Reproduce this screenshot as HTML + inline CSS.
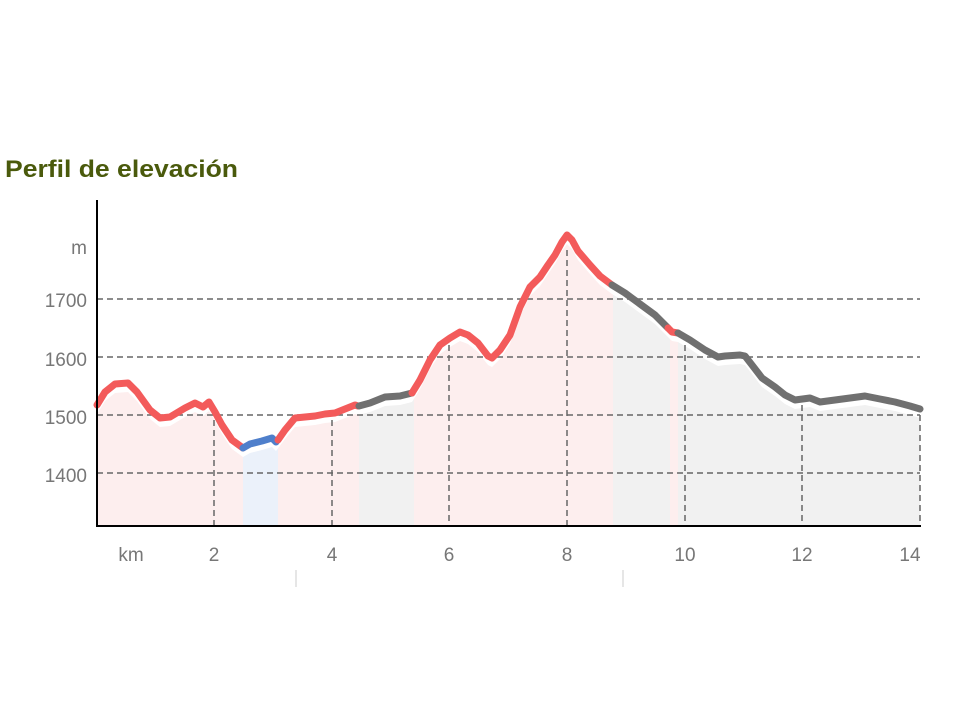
<!DOCTYPE html>
<html><head><meta charset="utf-8"><style>
body{margin:0;background:#fff;width:960px;height:720px;overflow:hidden}
svg{display:block}
text{font-family:"Liberation Sans",sans-serif}
</style></head><body>
<svg width="960" height="720" viewBox="0 0 960 720">
<defs>
<clipPath id="fc"><path id="fp" transform="translate(0,9)" d="M97,405 L105,392 L115,384 L128,383 L137,392 L150,410 L160,418 L170,417 L185,408 L195,403 L203,407 L209,402 L215,412 L222,425 L232,440 L243,448 L250,444 L262,441 L272,438 L276,442 L285,430 L295,418 L305,417 L315,416 L325,414 L335,413 L345,409 L355,405 L358,406 L370,403 L385,397 L400,396 L412,393 L420,380 L430,360 L440,345 L450,338 L460,332 L468,335 L478,343 L488,356 L492,358 L500,350 L510,335 L520,307 L530,287 L540,277 L548,265 L555,255 L562,242 L567,235 L572,240 L578,251 L590,265 L600,276 L612,285 L625,293 L640,304 L655,315 L668,328 L672,332 L678,333 L690,340 L705,350 L718,357 L725,356 L740,355 L745,356 L752,365 L762,378 L775,387 L785,395 L795,400 L810,398 L820,402 L835,400 L850,398 L865,396 L880,399 L895,402 L910,406 L920,409 L920,540 L97,540 Z"/></clipPath>
</defs>
<text x="5" y="177" font-size="24" font-weight="bold" fill="#4a5a0c" textLength="233" lengthAdjust="spacingAndGlyphs">Perfil de elevación</text>
<g clip-path="url(#fc)">
<rect x="97" y="200" width="146" height="326" fill="#fdeeee"/>
<rect x="243" y="200" width="35" height="326" fill="#ebf1fa"/>
<rect x="278" y="200" width="81" height="326" fill="#fdeeee"/>
<rect x="359" y="200" width="55" height="326" fill="#f1f1f1"/>
<rect x="414" y="200" width="199" height="326" fill="#fdeeee"/>
<rect x="613" y="200" width="57" height="326" fill="#f1f1f1"/>
<rect x="670" y="200" width="8" height="326" fill="#fdeeee"/>
<rect x="678" y="200" width="242" height="326" fill="#f1f1f1"/>
</g>
<g stroke="#666" stroke-width="1.5" stroke-dasharray="6,4" fill="none">
<line x1="97" y1="299" x2="920" y2="299"/>
<line x1="97" y1="357" x2="920" y2="357"/>
<line x1="97" y1="415" x2="920" y2="415"/>
<line x1="97" y1="473" x2="920" y2="473"/>
<line x1="214" y1="410" x2="214" y2="526"/>
<line x1="332" y1="420" x2="332" y2="526"/>
<line x1="449" y1="345" x2="449" y2="526"/>
<line x1="567" y1="250" x2="567" y2="526"/>
<line x1="685" y1="345" x2="685" y2="526"/>
<line x1="802" y1="405" x2="802" y2="526"/>
<line x1="920" y1="415" x2="920" y2="526"/>
</g>
<g fill="none" stroke-width="7" stroke-linejoin="round" stroke-linecap="round">
<polyline stroke="#f35b5b" points="97,405 105,392 115,384 128,383 137,392 150,410 160,418 170,417 185,408 195,403 203,407 209,402 215,412 222,425 232,440 243,448"/>
<polyline stroke="#4f7fcb" points="243,448 250,444 262,441 272,438 276,442"/>
<polyline stroke="#f35b5b" points="278,440 285,430 295,418 305,417 315,416 325,414 335,413 345,409 355,405 358,406"/>
<polyline stroke="#707070" points="359,406 370,403 385,397 400,396 412,393"/>
<polyline stroke="#f35b5b" points="412,393 420,380 430,360 440,345 450,338 460,332 468,335 478,343 488,356 492,358 500,350 510,335 520,307 530,287 540,277 548,265 555,255 562,242 567,235 572,240 578,251 590,265 600,276 612,285"/>
<polyline stroke="#707070" points="612,285 625,293 640,304 655,315 668,328"/>
<polyline stroke="#f35b5b" points="668,328 672,332 678,333"/>
<polyline stroke="#707070" points="678,333 690,340 705,350 718,357 725,356 740,355 745,356 752,365 762,378 775,387 785,395 795,400 810,398 820,402 835,400 850,398 865,396 880,399 895,402 910,406 920,409"/>
</g>
<line x1="97" y1="200" x2="97" y2="527" stroke="#000" stroke-width="2"/>
<line x1="96" y1="526" x2="921" y2="526" stroke="#000" stroke-width="2"/>
<g fill="#777" font-size="19">
<text x="87" y="254" text-anchor="end">m</text>
<text x="87" y="307" text-anchor="end">1700</text>
<text x="87" y="366" text-anchor="end">1600</text>
<text x="87" y="424" text-anchor="end">1500</text>
<text x="87" y="482" text-anchor="end">1400</text>
<text x="131" y="561" text-anchor="middle">km</text>
<text x="214" y="561" text-anchor="middle">2</text>
<text x="332" y="561" text-anchor="middle">4</text>
<text x="449" y="561" text-anchor="middle">6</text>
<text x="567" y="561" text-anchor="middle">8</text>
<text x="685" y="561" text-anchor="middle">10</text>
<text x="802" y="561" text-anchor="middle">12</text>
<text x="910" y="561" text-anchor="middle">14</text>
</g>
<line x1="296" y1="570" x2="296" y2="587" stroke="#ccc" stroke-width="1"/>
<line x1="623" y1="570" x2="623" y2="587" stroke="#ccc" stroke-width="1"/>
</svg>
</body></html>
